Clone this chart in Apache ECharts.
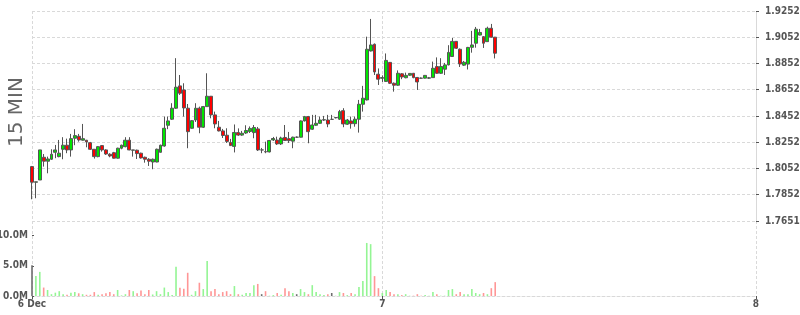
<!DOCTYPE html>
<html><head><meta charset="utf-8">
<script src="https://cdn.jsdelivr.net/npm/echarts@6/dist/echarts.min.js"></script>
<style>html,body{margin:0;padding:0;background:#fff}#c{width:800px;height:315px}</style>
</head><body><div id="c"></div>
<script>
// ---- data ----
const slotStartUTC = Date.UTC(2023, 11, 6, 1, 30); // first 15-min slot
const slotCount = 187;
const xTickSlots = [0, 90, 186];
const xTickLabels = ['6 Dec', '7', '8'];
const priceTickLabels = ['1.7651','1.7852','1.8052','1.8252','1.8452','1.8652','1.8852','1.9052','1.9252'];
const volumeTickValues = [0, 5, 10];
const volumeTickLabels = ['0.0M', '5.0M', '10.0M'];

const opens = [1.8066,1.7947,1.7964,1.8137,1.8107,1.8122,1.8175,1.8142,1.8198,1.8229,
1.8193,1.8282,1.8297,1.8267,1.8267,1.8248,1.8198,1.8142,1.8226,1.8193,
1.8160,1.8172,1.8130,1.8206,1.8218,1.8267,1.8191,1.8191,1.8168,1.8137,
1.8122,1.8101,1.8101,1.8175,1.8223,1.8381,1.8427,1.8511,1.8681,1.8650,
1.8511,1.8358,1.8421,1.8511,1.8366,1.8523,1.8602,1.8460,1.8366,1.8338,
1.8305,1.8250,1.8220,1.8325,1.8306,1.8322,1.8334,1.8325,1.8353,1.8193,
1.8180,1.8178,1.8269,1.8268,1.8239,1.8288,1.8279,1.8260,1.8290,1.8290,
1.8414,1.8447,1.8351,1.8381,1.8396,1.8421,1.8421,1.8426,1.8438,1.8427,
1.8492,1.8389,1.8414,1.8393,1.8427,1.8541,1.8574,1.8947,1.8998,1.8770,
1.8739,1.8715,1.8860,1.8701,1.8686,1.8773,1.8743,1.8762,1.8777,1.8745,
1.8740,1.8740,1.8740,1.8744,1.8828,1.8777,1.8808,1.8841,1.8905,1.9020,
1.8960,1.8839,1.8847,1.8975,1.9006,1.9068,1.9056,1.9018,1.9120,1.9052];
const closes = [1.7947,1.7950,1.8193,1.8107,1.8124,1.8160,1.8193,1.8168,1.8229,1.8193,
1.8279,1.8302,1.8269,1.8279,1.8254,1.8198,1.8142,1.8218,1.8193,1.8162,
1.8147,1.8130,1.8206,1.8229,1.8267,1.8193,1.8193,1.8165,1.8132,1.8122,
1.8107,1.8122,1.8198,1.8229,1.8358,1.8414,1.8511,1.8671,1.8625,1.8513,
1.8332,1.8416,1.8511,1.8366,1.8523,1.8602,1.8460,1.8391,1.8338,1.8303,
1.8258,1.8226,1.8326,1.8306,1.8320,1.8341,1.8357,1.8364,1.8193,1.8193,
1.8178,1.8265,1.8280,1.8239,1.8284,1.8265,1.8264,1.8290,1.8290,1.8414,
1.8447,1.8332,1.8383,1.8396,1.8421,1.8423,1.8391,1.8426,1.8440,1.8485,
1.8391,1.8421,1.8393,1.8427,1.8541,1.8587,1.8960,1.8993,1.8787,1.8732,
1.8744,1.8875,1.8701,1.8686,1.8777,1.8749,1.8761,1.8776,1.8744,1.8711,
1.8739,1.8761,1.8742,1.8815,1.8777,1.8829,1.8841,1.8936,1.9020,1.8968,
1.8848,1.8861,1.8974,1.8993,1.9113,1.9088,1.9006,1.9120,1.9052,1.8930];
const highs = [1.8071,1.7950,1.8193,1.8162,1.8142,1.8198,1.8231,1.8269,1.8290,1.8279,
1.8315,1.8351,1.8315,1.8391,1.8269,1.8254,1.8198,1.8223,1.8229,1.8198,
1.8168,1.8178,1.8210,1.8233,1.8290,1.8290,1.8193,1.8195,1.8172,1.8142,
1.8130,1.8127,1.8203,1.8233,1.8447,1.8447,1.8549,1.8892,1.8764,1.8701,
1.8543,1.8421,1.8549,1.8523,1.8528,1.8777,1.8604,1.8485,1.8414,1.8353,
1.8358,1.8277,1.8387,1.8357,1.8338,1.8381,1.8372,1.8383,1.8368,1.8208,
1.8256,1.8269,1.8292,1.8294,1.8294,1.8383,1.8330,1.8294,1.8296,1.8418,
1.8452,1.8452,1.8460,1.8460,1.8447,1.8452,1.8460,1.8460,1.8444,1.8498,
1.8511,1.8429,1.8447,1.8447,1.8574,1.8681,1.9056,1.9191,1.9004,1.8814,
1.8761,1.8928,1.8863,1.8707,1.8799,1.8779,1.8782,1.8779,1.8779,1.8749,
1.8745,1.8764,1.8749,1.8866,1.8898,1.8892,1.8856,1.8991,1.9046,1.9023,
1.8966,1.8871,1.8978,1.9100,1.9130,1.9115,1.9061,1.9132,1.9153,1.9054];
const lows = [1.7817,1.7825,1.7964,1.8066,1.8015,1.8117,1.8130,1.8137,1.8122,1.8168,
1.8142,1.8229,1.8256,1.8264,1.8213,1.8193,1.8127,1.8137,1.8180,1.8155,
1.8137,1.8127,1.8127,1.8198,1.8213,1.8191,1.8142,1.8124,1.8127,1.8096,
1.8071,1.8046,1.8099,1.8172,1.8218,1.8351,1.8421,1.8505,1.8612,1.8447,
1.8206,1.8355,1.8406,1.8320,1.8360,1.8521,1.8434,1.8358,1.8334,1.8284,
1.8246,1.8223,1.8174,1.8300,1.8300,1.8315,1.8322,1.8282,1.8185,1.8168,
1.8168,1.8174,1.8261,1.8231,1.8231,1.8263,1.8246,1.8206,1.8284,1.8288,
1.8410,1.8244,1.8345,1.8376,1.8391,1.8414,1.8366,1.8421,1.8433,1.8421,
1.8366,1.8383,1.8355,1.8370,1.8325,1.8485,1.8570,1.8943,1.8764,1.8688,
1.8711,1.8711,1.8695,1.8637,1.8681,1.8732,1.8739,1.8757,1.8739,1.8650,
1.8734,1.8738,1.8734,1.8742,1.8772,1.8772,1.8764,1.8837,1.8901,1.8962,
1.8825,1.8833,1.8806,1.8934,1.8972,1.9065,1.8970,1.9016,1.9049,1.8890];
// volumes in millions
const volumes = [5.1,3.3,4.0,1.4,1.0,0.3,0.55,0.8,0.3,0.2,
0.55,0.65,0.45,0.3,0.2,0.2,0.65,0.2,0.3,0.45,
0.65,0.3,1.0,0.1,0.3,1.0,0.8,0.45,0.9,0.3,
1.0,0.25,0.8,0.3,1.4,0.65,0.15,4.85,1.35,1.2,
3.85,0.2,0.8,2.2,1.15,5.8,0.8,1.15,0.3,0.65,
0.8,0.3,1.65,0.3,0.2,0.5,0.5,1.8,2.0,0.3,
0.8,0.05,0.15,0.5,0.2,1.3,0.8,0.5,0.3,1.15,
0.65,0.3,1.8,0.65,0.3,0.15,0.3,0.5,0.05,0.65,
0.5,0.15,0.5,0.3,1.5,2.5,8.8,8.6,3.3,1.3,
0.5,1.0,0.65,0.3,0.3,0.15,0.3,0.05,0.05,0.3,
0.05,0.15,0.05,0.65,0.3,0.05,0.05,1.0,1.15,0.3,
0.65,0.3,0.3,1.15,0.5,0.3,0.5,0.3,1.3,2.3];

// ---- build ----
function pad(n){return (n<10?'0':'')+n;}
const categories = [];
for (let i = 0; i < slotCount; i++) {
  const d = new Date(slotStartUTC + i * 15 * 60000);
  categories.push(pad(d.getUTCMonth()+1)+'-'+pad(d.getUTCDate())+' '+pad(d.getUTCHours())+':'+pad(d.getUTCMinutes()));
}
const showSlot = (idx) => xTickSlots.indexOf(idx) >= 0;
const candleData = opens.map((o, i) => [o, closes[i], lows[i], highs[i]]);
const volData = volumes.map((v, i) => {
  let c = '#94f594';
  if (i === 0 || closes[i] === opens[i]) c = '#6e6e6e';
  else if (closes[i] < opens[i]) c = '#ff9696';
  return { value: v, itemStyle: { color: c } };
});

const labelFont = { color: '#555', fontFamily: '"DejaVu Sans Condensed", "DejaVu Sans"', fontSize: 10, fontWeight: 'bold' };
const gridLine = { color: '#d9d9d9', width: 1, type: [3, 2] };

const chart = echarts.init(document.getElementById('c'), null, { renderer: 'canvas' });
chart.setOption({
  animation: false,
  backgroundColor: '#fff',
  grid: [
    { left: 32, right: 44, top: 11, height: 210, containLabel: false, outerBoundsMode: 'none' },
    { left: 32, right: 44, top: 221, height: 75, containLabel: false, outerBoundsMode: 'none' }
  ],
  xAxis: [
    { gridIndex: 0, type: 'category', data: categories, boundaryGap: false,
      axisLine: { show: false }, axisTick: { show: false }, axisLabel: { show: false },
      splitLine: { show: true, interval: (i) => showSlot(i), lineStyle: gridLine } },
    { gridIndex: 1, type: 'category', data: categories, boundaryGap: false,
      axisLine: { show: true, lineStyle: gridLine },
      axisTick: { show: true, interval: (i) => showSlot(i), length: 3, lineStyle: { color: '#555' } },
      axisLabel: Object.assign({ interval: (i) => showSlot(i), margin: 3,
        formatter: (v, i) => { const k = xTickSlots.indexOf(i); return k >= 0 ? xTickLabels[k] : ''; } }, labelFont),
      splitLine: { show: true, interval: (i) => showSlot(i), lineStyle: gridLine } }
  ],
  yAxis: [
    { gridIndex: 0, type: 'value', position: 'right', min: 1.76515, max: 1.92515, interval: 0.02,
      axisLine: { show: true, lineStyle: gridLine },
      axisTick: { show: true, length: 3, lineStyle: { color: '#555' } },
      axisLabel: Object.assign({ margin: 9,
        formatter: (v) => priceTickLabels[Math.round((v - 1.76515) / 0.02)] || '' }, labelFont),
      splitLine: { show: true, lineStyle: gridLine } },
    { gridIndex: 1, type: 'value', position: 'left', min: 0, max: 12.44, interval: 5,
      axisLine: { show: false },
      axisTick: { show: true, inside: true, length: 2, customValues: volumeTickValues, lineStyle: { color: '#555' } },
      axisLabel: Object.assign({ margin: 4, customValues: volumeTickValues,
        formatter: (v) => { const k = volumeTickValues.indexOf(Math.round(v)); return k >= 0 ? volumeTickLabels[k] : ''; } }, labelFont),
      splitLine: { show: false } }
  ],
  graphic: [
    { type: 'text', x: 17, y: 112, rotation: Math.PI / 2,
      style: { text: '15 MIN', fill: '#666', font: '20px "DejaVu Sans"', textAlign: 'center', textVerticalAlign: 'middle' } }
  ],
  series: [
    { type: 'candlestick', xAxisIndex: 0, yAxisIndex: 0, data: candleData, barWidth: 3.4, clip: false,
      itemStyle: { color: '#00e600', color0: '#ff0000', borderColor: '#555', borderColor0: '#555', borderWidth: 1 } },
    { type: 'bar', xAxisIndex: 1, yAxisIndex: 1, data: volData, barWidth: 1.6 }
  ]
});
</script></body></html>
